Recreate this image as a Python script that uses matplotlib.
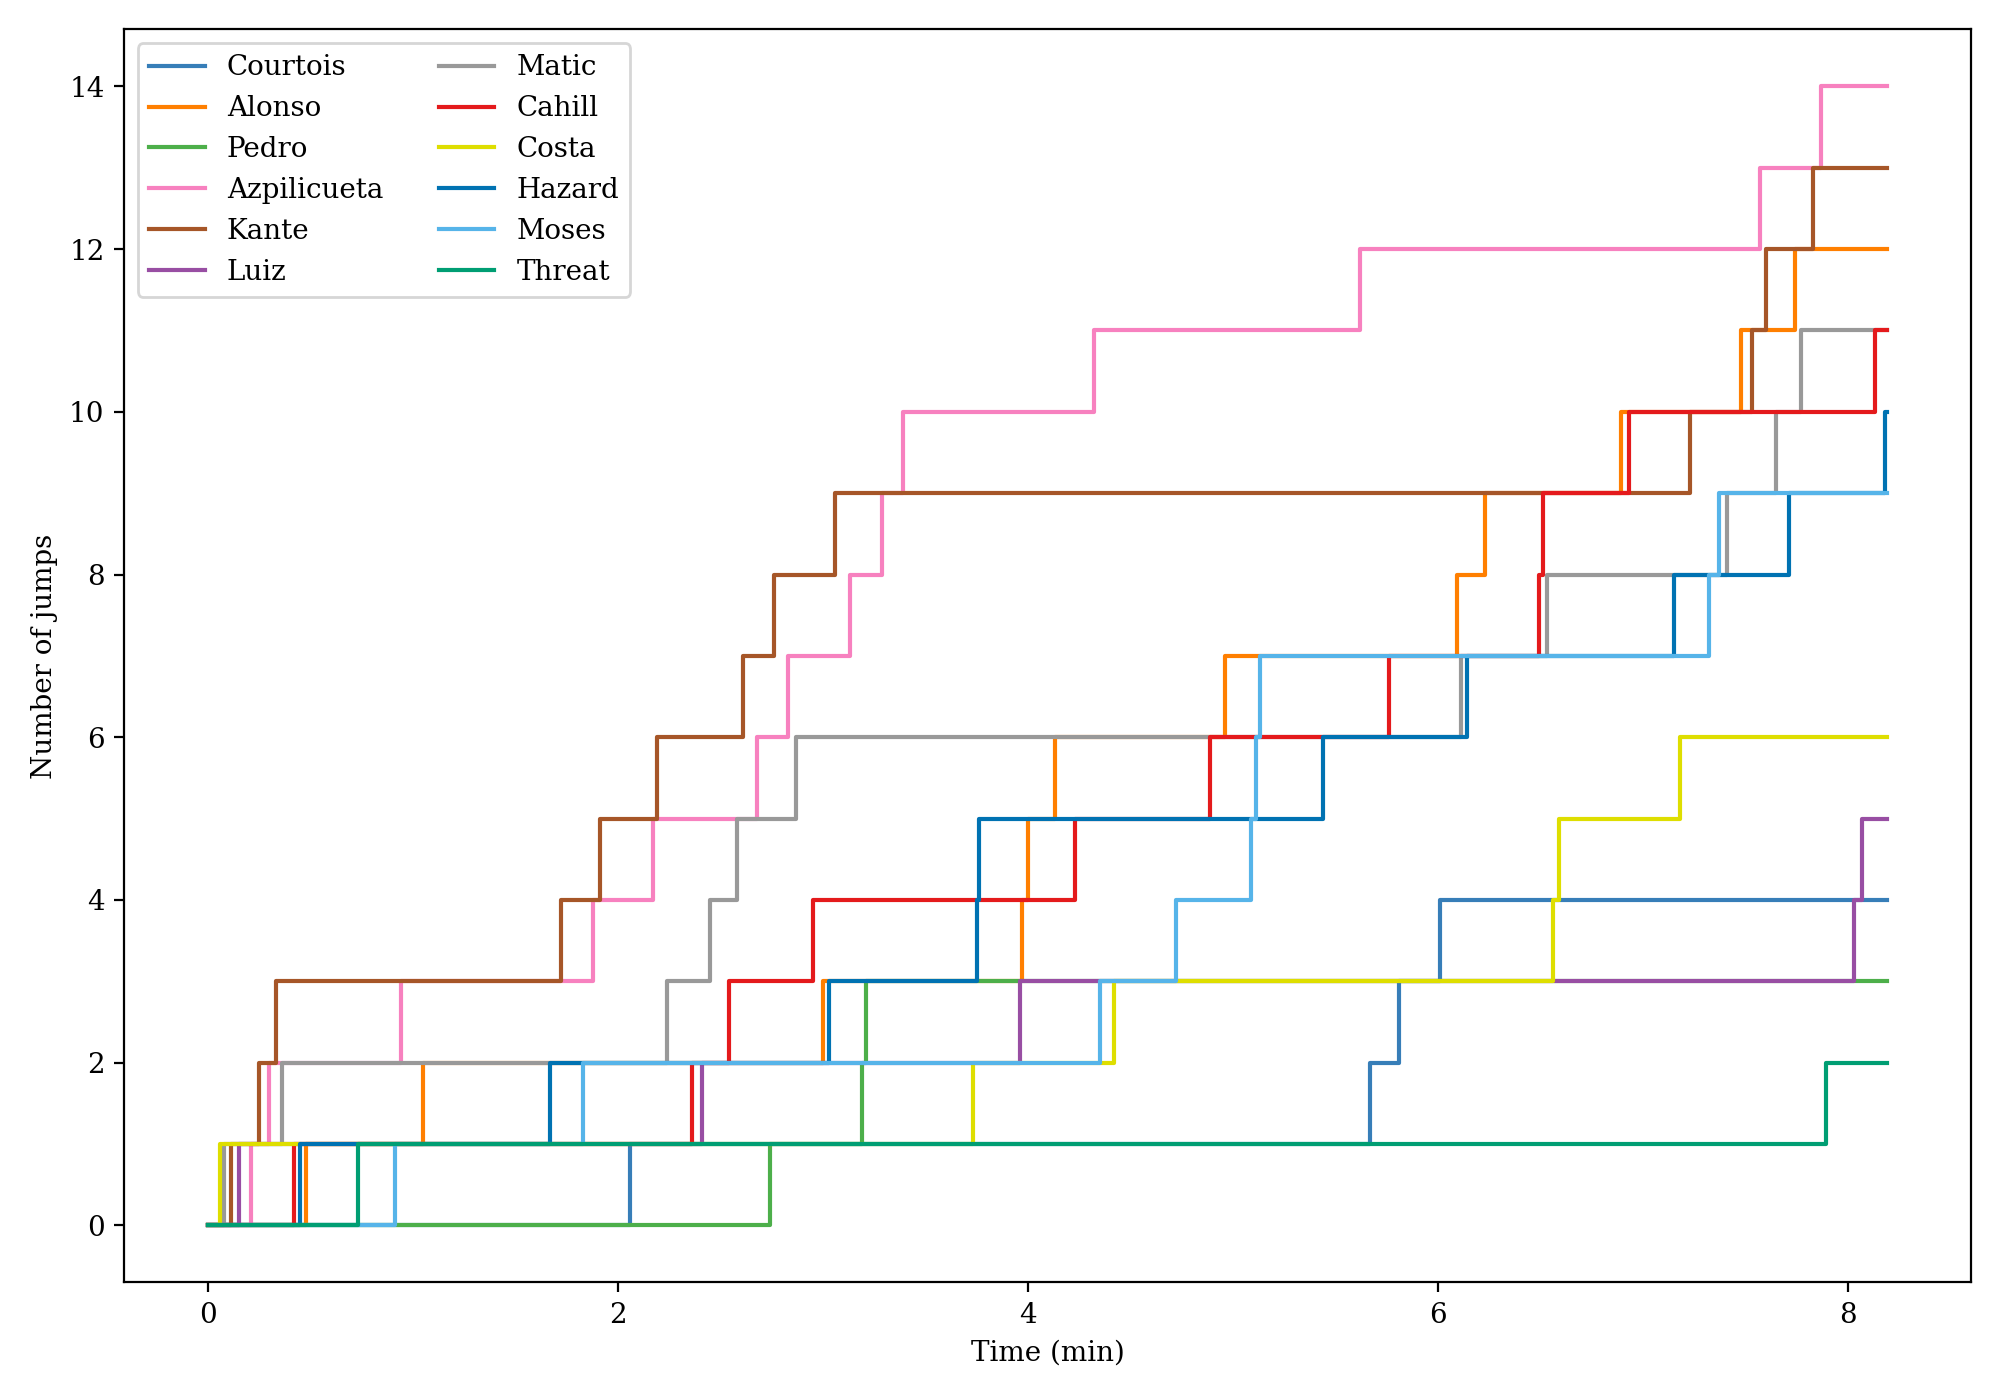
import matplotlib
matplotlib.use("Agg")
import matplotlib.pyplot as plt

plt.rcParams["font.family"] = "DejaVu Serif"

players = ["Courtois", "Alonso", "Pedro", "Azpilicueta", "Kante", "Luiz",
           "Matic", "Cahill", "Costa", "Hazard", "Moses", "Threat"]

colors = ["#377eb8", "#ff7f00", "#4daf4a", "#f781bf", "#a65628", "#984ea3",
          "#999999", "#e41a1c", "#dede00", "#0072b2", "#56b4e9", "#009e73"]

# times (min) at which each player's jump count goes up by one
courtois = [2.06, 5.67, 5.81, 6.01]
alonso = [0.48, 1.05, 3.00, 3.97, 4.00, 4.13, 4.96, 6.09, 6.23, 6.89, 7.48, 7.74]
pedro = [2.74, 3.19, 3.21]
azpilicueta = [0.21, 0.30, 0.94, 1.88, 2.17, 2.68, 2.83, 3.13, 3.29, 3.39,
               4.32, 5.62, 7.57, 7.87]
kante = [0.11, 0.25, 0.33, 1.72, 1.91, 2.19, 2.61, 2.76, 3.06, 7.23, 7.53,
         7.60, 7.83]
luiz = [0.15, 2.41, 3.96, 8.03, 8.07]
matic = [0.08, 0.36, 2.24, 2.45, 2.58, 2.87, 6.11, 6.53, 7.41, 7.65, 7.77]
cahill = [0.42, 2.36, 2.54, 2.95, 4.23, 4.89, 5.76, 6.49, 6.51, 6.93, 8.13]
costa = [0.06, 3.73, 4.42, 6.56, 6.59, 7.18]
hazard = [0.45, 1.67, 3.03, 3.75, 3.76, 5.44, 6.14, 7.15, 7.71, 8.18]
moses = [0.91, 1.83, 4.35, 4.72, 5.09, 5.11, 5.13, 7.32, 7.37]
threat = [0.73, 7.89]

jumps = [courtois, alonso, pedro, azpilicueta, kante, luiz,
         matic, cahill, costa, hazard, moses, threat]

end_time = 8.19

fig = plt.figure(figsize=(10, 7), dpi=200)
ax = fig.add_axes([0.062, 0.084, 0.9235, 0.895])

for name, color, times in zip(players, colors, jumps):
    x = [0] + times + [end_time]
    y = list(range(len(times) + 1)) + [len(times)]
    ax.plot(x, y, drawstyle="steps-post", color=color, lw=1.5, label=name)

ax.set_xlabel("Time (min)")
ax.set_ylabel("Number of jumps")
ax.set_xticks([0, 2, 4, 6, 8])
ax.set_yticks(range(0, 15, 2))
ax.legend(loc="upper left", ncol=2)

plt.savefig("out.png")
plt.close()
